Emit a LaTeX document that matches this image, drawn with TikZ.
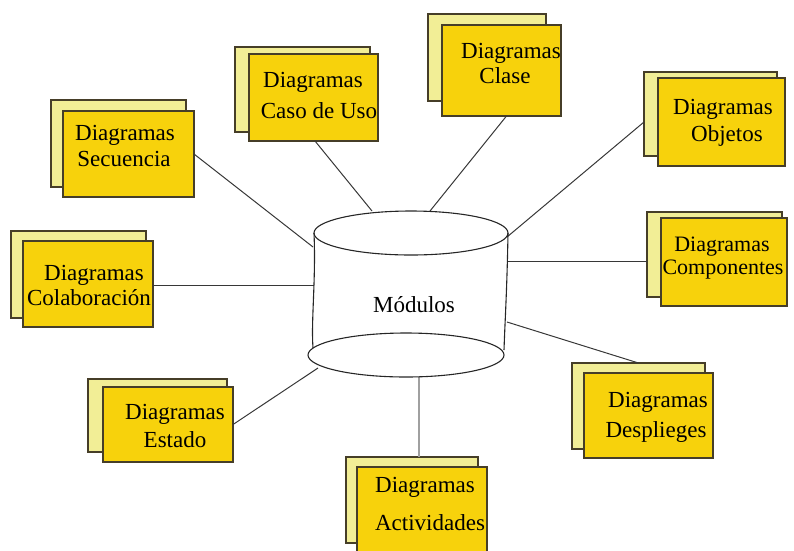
\documentclass[tikz,border=0pt]{standalone}
\usepackage{fontspec}
\setmainfont{Liberation Serif}
\definecolor{cardgold}{RGB}{247,210,12}
\definecolor{cardpale}{RGB}{242,238,150}
\definecolor{cardedge}{RGB}{70,62,40}
\definecolor{linkgray}{RGB}{55,55,55}
\definecolor{actgray}{RGB}{160,160,160}
% card: style, name, x1, y1, x2, y2 (top-left and bottom-right corners)
\newcommand\mkcard[6]{%
  \node[#1, minimum width={#5-#3}, minimum height={#6-#4}]
    (#2) at ({(#3+#5)/2},{(#4+#6)/2}) {};}
\begin{document}
\begin{tikzpicture}[x=1pt,y=-1pt,
  backcard/.style={draw=cardedge, fill=cardpale, line width=1.1pt, inner sep=0pt, outer sep=0pt},
  frontcard/.style={draw=cardedge, fill=cardgold, line width=1.1pt, inner sep=0pt, outer sep=0pt},
  lbl/.style={font=\fontsize{23}{26}\selectfont, anchor=base, inner sep=0pt},
  lblsmall/.style={font=\fontsize{22}{26}\selectfont, anchor=base, inner sep=0pt},
  link/.style={draw=linkgray, line width=1pt},
  actlink/.style={draw=actgray, line width=2.4pt},
  drum/.style={draw=black!85, line width=1.1pt},
]
\useasboundingbox (0,0) rectangle (794,550);

% attachment points on the drum
\coordinate (k-sec)  at (313,247);
\coordinate (k-caso) at (372,211);
\coordinate (k-cla)  at (430,211);
\coordinate (k-obj)  at (507,237);
\coordinate (k-com)  at (508,261);
\coordinate (k-des)  at (507,322);
\coordinate (k-act)  at (419,377);
\coordinate (k-est)  at (318,368);
\coordinate (k-col)  at (314,285);

% cards: pale sheet behind, gold sheet in front
\mkcard{backcard}{secB}{51}{100}{186}{187}
\mkcard{frontcard}{sec}{63}{111}{194}{197}
\mkcard{backcard}{casoB}{235}{47}{370}{132}
\mkcard{frontcard}{caso}{249}{54}{378}{141}
\mkcard{backcard}{claB}{428}{14}{546}{101}
\mkcard{frontcard}{cla}{442}{25}{561}{116}
\mkcard{backcard}{objB}{644}{72}{777}{156}
\mkcard{frontcard}{obj}{658}{78}{785}{166}
\mkcard{backcard}{comB}{647}{212}{782}{297}
\mkcard{frontcard}{com}{661}{218}{787}{306}
\mkcard{backcard}{desB}{572}{363}{705}{449}
\mkcard{frontcard}{des}{584}{373}{713}{458}
\mkcard{backcard}{actB}{346}{457}{478}{543}
\mkcard{frontcard}{act}{357}{467}{487}{562}
\mkcard{backcard}{estB}{88}{379}{227}{452}
\mkcard{frontcard}{est}{103}{387}{233}{462}
\mkcard{backcard}{colB}{11}{231}{146}{318}
\mkcard{frontcard}{col}{23}{241}{153}{327}

% connectors
\draw[link] (sec.east) -- (k-sec);
\draw[link] ([xshift=1.5pt]caso.south) -- (k-caso);
\draw[link] ([xshift=5pt]cla.south) -- (k-cla);
\draw[link] ([yshift=-8pt]objB.west) -- (k-obj);
\draw[link] (k-com) -- (k-com -| comB.west);
\draw[link] (k-des) -- (desB.north);
\draw[actlink] (k-act) -- (k-act |- actB.north);
\draw[link] (k-est) -- (est.east);
\draw[link] (k-col) -- (k-col -| col.east);

% card texts
\node[lbl] (t-sec1) at (125,140) {Diagramas};
\node[lbl] (t-sec2) at (124,166) {Secuencia};
\node[lbl] (t-caso1) at (313,87) {Diagramas};
\node[lbl] (t-caso2) at (319,118) {Caso de Uso};
\node[lbl] (t-cla1) at (511,58) {Diagramas};
\node[lbl] (t-cla2) at (505,83) {Clase};
\node[lbl] (t-obj1) at (723,114) {Diagramas};
\node[lbl] (t-obj2) at (727,141) {Objetos};
\node[lblsmall] (t-com1) at (722,251) {Diagramas};
\node[lblsmall] (t-com2) at (723,274) {Componentes};
\node[lbl] (t-des1) at (658,407) {Diagramas};
\node[lbl] (t-des2) at (656,437) {Desplieges};
\node[lbl] (t-act1) at (425,492) {Diagramas};
\node[lbl] (t-act2) at (430,530) {Actividades};
\node[lbl] (t-est1) at (175,419) {Diagramas};
\node[lbl] (t-est2) at (175,447) {Estado};
\node[lbl] (t-col1) at (94,280) {Diagramas};
\node[lbl] (t-col2) at (89,305) {Colaboración};

% the drum in the middle
\draw[drum] (411,233) ellipse [x radius=97, y radius=22];
\draw[drum] (406,355) ellipse [x radius=98, y radius=22];
\draw[drum] (314,233) .. controls (316,280) and (311,320) .. (313,348);
\draw[drum] (508,233) .. controls (507,290) and (505,320) .. (504,350);
\node[lbl] (mod) at (414,312) {Módulos};
\end{tikzpicture}
\end{document}
